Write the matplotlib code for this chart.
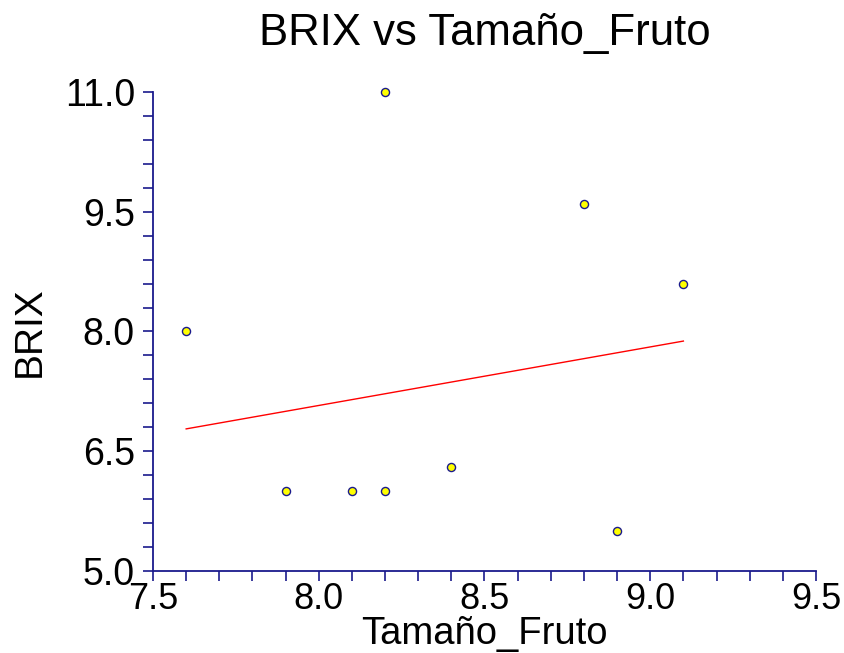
import matplotlib
matplotlib.use('Agg')
import matplotlib.pyplot as plt
import numpy as np

plt.rcParams['font.family'] = ['Liberation Sans', 'DejaVu Sans']

# Data
tamano = [7.6, 7.9, 8.1, 8.2, 8.2, 8.4, 8.8, 8.9, 9.1]
brix = [8.0, 6.0, 6.0, 6.0, 11.0, 6.3, 9.6, 5.5, 8.6]

# fitted line endpoints as drawn
fit_x = [7.6, 9.1]
fit_y = [6.78, 7.88]

axis_col = '#1a1a8c'

fig = plt.figure(figsize=(8.44, 6.53), dpi=100)
ax = fig.add_axes([0.1813, 0.1256, 0.7855, 0.7335])

ax.plot(fit_x, fit_y, color='red', lw=1, zorder=2)
ax.scatter(tamano, brix, s=34, facecolor='#ffff00', edgecolor=axis_col,
           linewidth=1, zorder=3, clip_on=False)

ax.set_xlim(7.5, 9.5)
ax.set_ylim(5.0, 11.0)
ax.set_xticks(np.arange(7.5, 9.51, 0.5))
ax.set_xticks(np.arange(7.5, 9.51, 0.1), minor=True)
ax.set_yticks(np.arange(5.0, 11.01, 1.5))
ax.set_yticks(np.arange(5.0, 11.01, 0.3), minor=True)
ax.xaxis.set_major_formatter(plt.FormatStrFormatter('%.1f'))
ax.yaxis.set_major_formatter(plt.FormatStrFormatter('%.1f'))

for s in ['top', 'right']:
    ax.spines[s].set_visible(False)
for s in ['left', 'bottom']:
    ax.spines[s].set_color(axis_col)
    ax.spines[s].set_linewidth(1.3)

ax.tick_params(which='both', direction='out', length=7, width=1.2, color=axis_col)
ax.tick_params(axis='y', which='major', labelsize=27, pad=6)
ax.tick_params(axis='x', which='major', labelsize=26, pad=1)

ax.set_title('BRIX vs Tamaño_Fruto', fontsize=31.5, pad=34)
ax.set_xlabel('Tamaño_Fruto', fontsize=27.5, labelpad=-1)
ax.set_ylabel('BRIX', fontsize=28, labelpad=12)

fig.savefig('out.png', dpi=100)
